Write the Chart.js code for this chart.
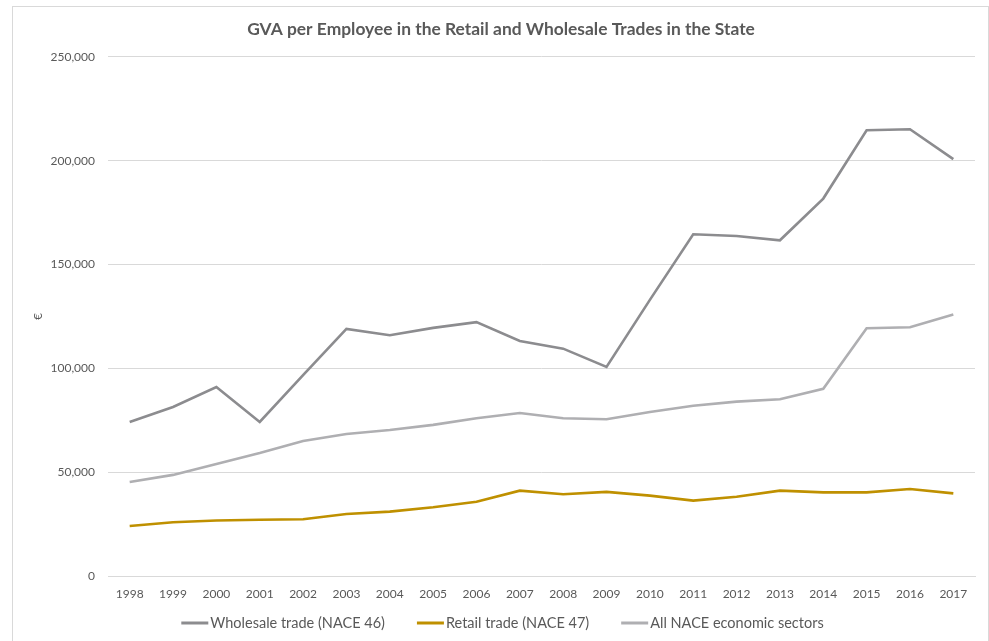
<!DOCTYPE html>
<html>

<head>
    <style>
        html, body {
            margin: 0;
            padding: 0;
            background: #fff;
        }

        #wrap {
            position: relative;
            width: 989px;
            height: 641px;
        }
    </style>
    <script src="https://cdn.jsdelivr.net/npm/chart.js"></script>
    <title>GVA per Employee</title>
</head>

<body>
    <div id="wrap">
        <canvas id="gva_chart" width="989" height="641"></canvas>
    </div>

    <script>
        const years = ['1998', '1999', '2000', '2001', '2002', '2003', '2004', '2005', '2006', '2007',
            '2008', '2009', '2010', '2011', '2012', '2013', '2014', '2015', '2016', '2017'];

        // GVA per employee, euro
        const wholesale = [74200, 81400, 91000, 74200, 96800, 119000, 116000, 119500, 122300, 113200,
            109500, 100700, 133000, 164600, 163800, 161700, 181800, 214700, 215200, 200800];
        const retail = [24100, 25900, 26700, 27100, 27300, 29900, 31000, 33100, 35800, 41100,
            39400, 40500, 38700, 36300, 38200, 41100, 40300, 40300, 41900, 39800];
        const allSectors = [45300, 48700, 54000, 59200, 65000, 68400, 70300, 72800, 76000, 78500,
            76000, 75500, 79000, 82000, 84000, 85100, 90200, 119300, 119800, 125900];

        const seriesNames = ['Wholesale trade (NACE 46)', 'Retail trade (NACE 47)', 'All NACE economic sectors'];
        const seriesColors = ['#8c8c8f', '#bf9000', '#afafb2'];

        const textColor = '#595959';
        const gridColor = '#d9d9d9';
        const fontFamily = 'Lato, "Open Sans", sans-serif';

        // light frame around the whole chart
        const framePlugin = {
            id: 'frame',
            beforeDraw(chart) {
                const ctx = chart.ctx;
                ctx.save();
                ctx.fillStyle = '#fff';
                ctx.fillRect(0, 0, chart.width, chart.height);
                ctx.strokeStyle = gridColor;
                ctx.lineWidth = 1;
                ctx.strokeRect(12.5, 6.5, chart.width - 13, chart.height + 10);
                ctx.restore();
            }
        };

        // legend drawn under the axis, short line markers with wide gaps
        const lineLegend = {
            id: 'lineLegend',
            afterDraw(chart, args, opts) {
                const ctx = chart.ctx;
                const markW = 27, gapText = 2, gapItem = 32;
                ctx.save();
                ctx.font = `${opts.size}px ${fontFamily}`;
                ctx.textBaseline = 'middle';
                const items = chart.data.datasets.map(ds => ({
                    text: ds.label,
                    color: ds.borderColor,
                    w: ctx.measureText(ds.label).width
                }));
                const total = items.reduce((s, it) => s + markW + gapText + it.w, 0) + gapItem * (items.length - 1);
                let x = opts.center - total / 2;
                const y = opts.y;
                items.forEach(it => {
                    ctx.strokeStyle = it.color;
                    ctx.lineWidth = 3;
                    ctx.beginPath();
                    ctx.moveTo(x, y);
                    ctx.lineTo(x + markW, y);
                    ctx.stroke();
                    ctx.fillStyle = textColor;
                    ctx.fillText(it.text, x + markW + gapText, y);
                    x += markW + gapText + it.w + gapItem;
                });
                ctx.restore();
            }
        };

        const datasets = [wholesale, retail, allSectors].map((values, i) => ({
            label: seriesNames[i],
            data: values,
            borderColor: seriesColors[i],
            backgroundColor: seriesColors[i],
            borderWidth: 2.6,
            pointRadius: 0,
            tension: 0,
            fill: false
        }));

        new Chart(document.getElementById('gva_chart'), {
            type: 'line',
            data: { labels: years, datasets: datasets },
            plugins: [framePlugin, lineLegend],
            options: {
                responsive: false,
                animation: false,
                layout: { padding: { left: 27, right: 14, top: 0, bottom: 40 } },
                plugins: {
                    legend: { display: false },
                    tooltip: { enabled: false },
                    lineLegend: { size: 14.5, y: 623, center: 502.5 },
                    title: {
                        display: true,
                        text: 'GVA per Employee in the Retail and Wholesale Trades in the State',
                        color: textColor,
                        font: { family: fontFamily, size: 17.4, weight: 'bold' },
                        padding: { top: 18.6, bottom: 17.5 }
                    }
                },
                scales: {
                    x: {
                        offset: true,
                        grid: { display: false, drawTicks: false },
                        border: { display: true, color: gridColor, width: 1 },
                        ticks: {
                            color: textColor,
                            font: { family: fontFamily, size: 12 },
                            padding: 11,
                            maxRotation: 0,
                            autoSkip: false
                        },
                        afterFit: s => { s.height = 25; }
                    },
                    y: {
                        min: 0,
                        max: 250000,
                        grid: { color: gridColor, drawTicks: false },
                        border: { display: false },
                        ticks: {
                            stepSize: 50000,
                            color: textColor,
                            font: { family: fontFamily, size: 12 },
                            padding: 13,
                            callback: v => v.toLocaleString('en-US')
                        },
                        title: {
                            display: true,
                            text: '€',
                            color: textColor,
                            font: { family: fontFamily, size: 12 },
                            padding: { top: 4, bottom: 0 }
                        },
                        afterFit: s => { s.width = 81; }
                    }
                }
            }
        });
    </script>
</body>

</html>
